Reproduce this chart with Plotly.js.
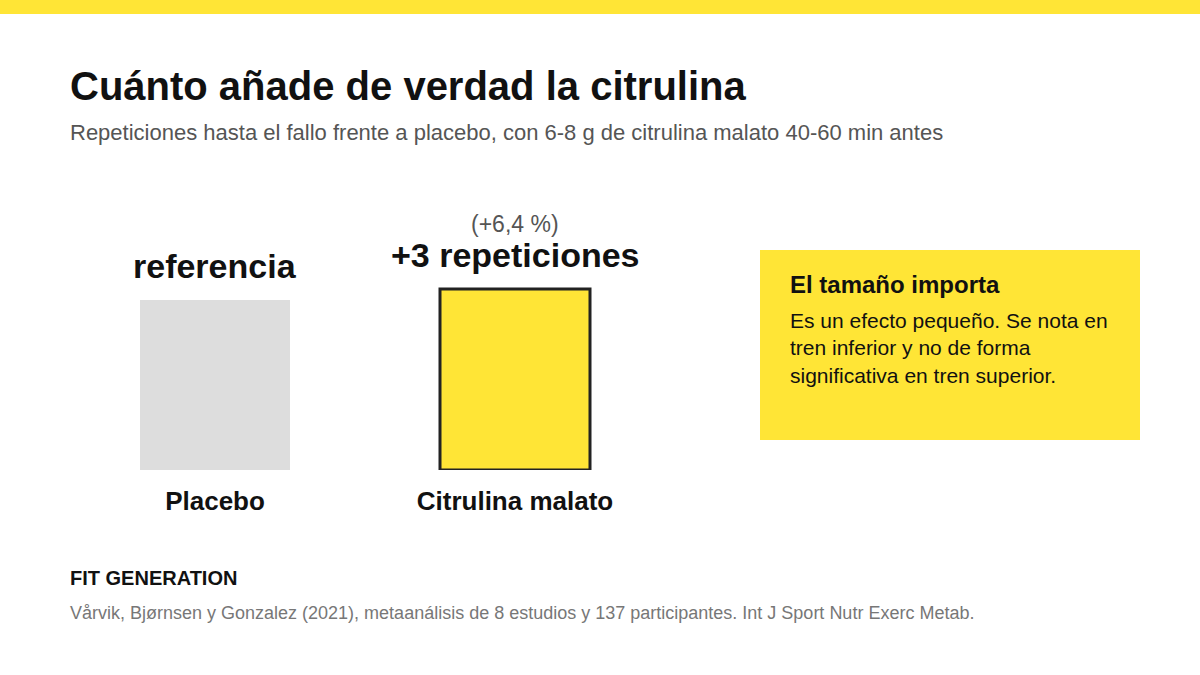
<!DOCTYPE html>
<html>
<head>
<meta charset="utf-8">
<script src="https://cdn.plot.ly/plotly-3.0.1.min.js"></script>
<style>
  html, body { margin: 0; padding: 0; background: #fff; }
  #chart { width: 1200px; height: 675px; }
</style>
</head>
<body>
<div id="chart"></div>
<script>
// data
var categories = ['Placebo', 'Citrulina malato'];
var values = [100, 106.4];          // placebo = referencia (100 %)
var barLabels = ['referencia', '+3 repeticiones'];
var pctLabels = ['', '(+6,4 %)'];

var YELLOW = '#ffe536';
var FONT = '"Liberation Sans", Arial, Helvetica, sans-serif';

// plot area in pixels: x 65..665, y 198..470
var PL = 65, PW = 600, PB = 470, PH = 272;

var trace = {
  type: 'bar',
  x: categories,
  y: values,
  width: 0.5,
  marker: {
    color: ['#dddddd', YELLOW],
    line: { color: ['rgba(0,0,0,0)', '#222222'], width: [0, 3] }
  },
  hoverinfo: 'skip'
};

var annotations = [];
for (var i = 0; i < categories.length; i++) {
  annotations.push({
    x: categories[i], y: values[i], xref: 'x', yref: 'y',
    text: '<b>' + barLabels[i] + '</b>', showarrow: false,
    yanchor: 'middle', yshift: 34,
    font: { family: FONT, size: 34, color: '#111' }
  });
  if (pctLabels[i]) {
    annotations.push({
      x: categories[i], y: values[i], xref: 'x', yref: 'y',
      text: pctLabels[i], showarrow: false,
      yanchor: 'middle', yshift: 65,
      font: { family: FONT, size: 23, color: '#555' }
    });
  }
}

// helper: place text by page pixel position (left edge, vertical centre)
function txt(text, x, y, size, color) {
  return {
    text: text, xref: 'paper', yref: 'paper',
    x: (x - PL) / PW, y: (PB - y) / PH,
    xanchor: 'left', yanchor: 'middle', showarrow: false, align: 'left',
    font: { family: FONT, size: size, color: color }
  };
}

annotations.push(txt('<b>Cuánto añade de verdad la citrulina</b>', 68, 86, 40, '#111'));
annotations.push(txt('Repeticiones hasta el fallo frente a placebo, con 6-8 g de citrulina malato 40-60 min antes', 68, 132, 22, '#555'));
annotations.push(txt('<b>El tamaño importa</b>', 788, 284, 24, '#111'));
annotations.push(txt('Es un efecto pequeño. Se nota en<br>tren inferior y no de forma<br>significativa en tren superior.', 788, 348, 21, '#111'));
annotations.push(txt('<b>FIT GENERATION</b>', 68, 578, 20, '#111'));
annotations.push(txt('Vårvik, Bjørnsen y Gonzalez (2021), metaanálisis de 8 estudios y 137 participantes. Int J Sport Nutr Exerc Metab.', 68, 613, 18, '#777'));

function rect(x0, y0, x1, y1, color) {
  return {
    type: 'rect', xref: 'paper', yref: 'paper',
    x0: (x0 - PL) / PW, x1: (x1 - PL) / PW,
    y0: (PB - y1) / PH, y1: (PB - y0) / PH,
    fillcolor: color, line: { width: 0 }, layer: 'below'
  };
}

var layout = {
  width: 1200, height: 675,
  margin: { l: PL, r: 1200 - PL - PW, t: PB - PH, b: 675 - PB },
  paper_bgcolor: '#fff', plot_bgcolor: 'rgba(0,0,0,0)',
  showlegend: false,
  font: { family: FONT },
  xaxis: {
    range: [-0.5, 1.5], showgrid: false, zeroline: false, showline: false,
    ticks: '', ticklabelstandoff: 13,
    tickfont: { family: FONT, size: 26, color: '#111', weight: 'bold' },
    fixedrange: true
  },
  yaxis: {
    range: [0, 160], showgrid: false, zeroline: false, showline: false,
    showticklabels: false, fixedrange: true
  },
  shapes: [
    rect(0, 0, 1200, 14, YELLOW),
    rect(760, 250, 1140, 440, YELLOW)
  ],
  annotations: annotations
};

Plotly.newPlot('chart', [trace], layout, { displayModeBar: false, staticPlot: true });
</script>
</body>
</html>
